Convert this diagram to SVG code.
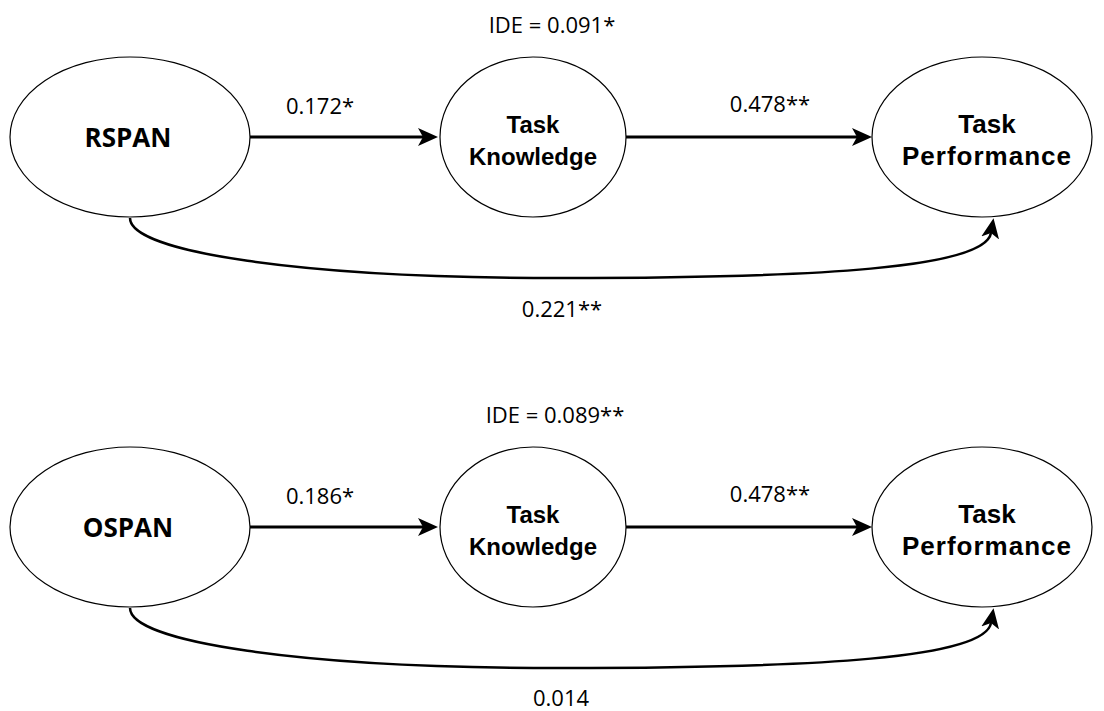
<svg xmlns="http://www.w3.org/2000/svg" width="1104" height="711" viewBox="0 0 1104 711">
  <style>
    .node { fill: #ffffff; stroke: #000000; stroke-width: 1.2; }
    .nlabel { font-family: "Liberation Sans", Arial, sans-serif; font-weight: bold; fill: #000; text-anchor: middle; }
    .tk { font-size: 24px; }
    .tp { font-size: 26px; }
    .wide { letter-spacing: 1px; }
    .slabel { font-family: "Open Sans", "Liberation Sans", sans-serif; font-weight: bold; font-size: 26px; fill: #000; text-anchor: middle; }
    .elabel { font-family: "Open Sans", "Liberation Sans", sans-serif; font-size: 22px; fill: #000; text-anchor: middle; }
    .edge { fill: none; stroke: #000; stroke-width: 3; }
    .curve { fill: none; stroke: #000; stroke-width: 2.5; }
  </style>
  <defs>
    <marker id="arr" markerUnits="userSpaceOnUse" viewBox="0 0 20 18" refX="5" refY="9" markerWidth="20" markerHeight="18" orient="auto">
      <path d="M0,0 L20,9 L0,18 L5,9 Z" fill="#000"/>
    </marker>
  </defs>

  <rect width="1104" height="711" fill="#ffffff"/>

  <!-- top model -->
  <g id="rspan">
    <ellipse class="node" cx="130" cy="137" rx="120" ry="80"/>
    <text class="slabel" x="128" y="147">RSPAN</text>
  </g>
  <g id="tk1">
    <ellipse class="node" cx="533" cy="137" rx="93" ry="80"/>
    <text class="nlabel tk" x="533" y="133">Task</text>
    <text class="nlabel tk" x="533" y="165">Knowledge</text>
  </g>
  <g id="tp1">
    <ellipse class="node" cx="982" cy="137" rx="110" ry="80"/>
    <text class="nlabel tp" x="987" y="133">Task</text>
    <text class="nlabel tp wide" x="987" y="165">Performance</text>
  </g>

  <!-- bottom model -->
  <g id="ospan">
    <ellipse class="node" cx="130" cy="527" rx="120" ry="80"/>
    <text class="slabel" x="128" y="537">OSPAN</text>
  </g>
  <g id="tk2">
    <ellipse class="node" cx="533" cy="527" rx="93" ry="80"/>
    <text class="nlabel tk" x="533" y="523">Task</text>
    <text class="nlabel tk" x="533" y="555">Knowledge</text>
  </g>
  <g id="tp2">
    <ellipse class="node" cx="982" cy="527" rx="110" ry="80"/>
    <text class="nlabel tp" x="987" y="523">Task</text>
    <text class="nlabel tp wide" x="987" y="555">Performance</text>
  </g>

  <g id="connectors">
    <line class="edge" x1="250" y1="137" x2="423" y2="137" marker-end="url(#arr)"/>
    <line class="edge" x1="626" y1="137" x2="857" y2="137" marker-end="url(#arr)"/>
    <path class="curve" d="M130,218 C130,252 300,278 560,278 C820,278 985,268 991,233" marker-end="url(#arr)"/>

    <line class="edge" x1="250" y1="527" x2="423" y2="527" marker-end="url(#arr)"/>
    <line class="edge" x1="626" y1="527" x2="857" y2="527" marker-end="url(#arr)"/>
    <path class="curve" d="M130,608 C130,642 300,668 560,668 C820,668 985,658 991,623" marker-end="url(#arr)"/>
  </g>

  <g id="labels">
    <text class="elabel" x="552" y="33">IDE = 0.091*</text>
    <text class="elabel" x="320" y="114">0.172*</text>
    <text class="elabel" x="770" y="112">0.478**</text>
    <text class="elabel" x="562" y="317">0.221**</text>

    <text class="elabel" x="555" y="423">IDE = 0.089**</text>
    <text class="elabel" x="320" y="504">0.186*</text>
    <text class="elabel" x="770" y="502">0.478**</text>
    <text class="elabel" x="561" y="706">0.014</text>
  </g>
</svg>
